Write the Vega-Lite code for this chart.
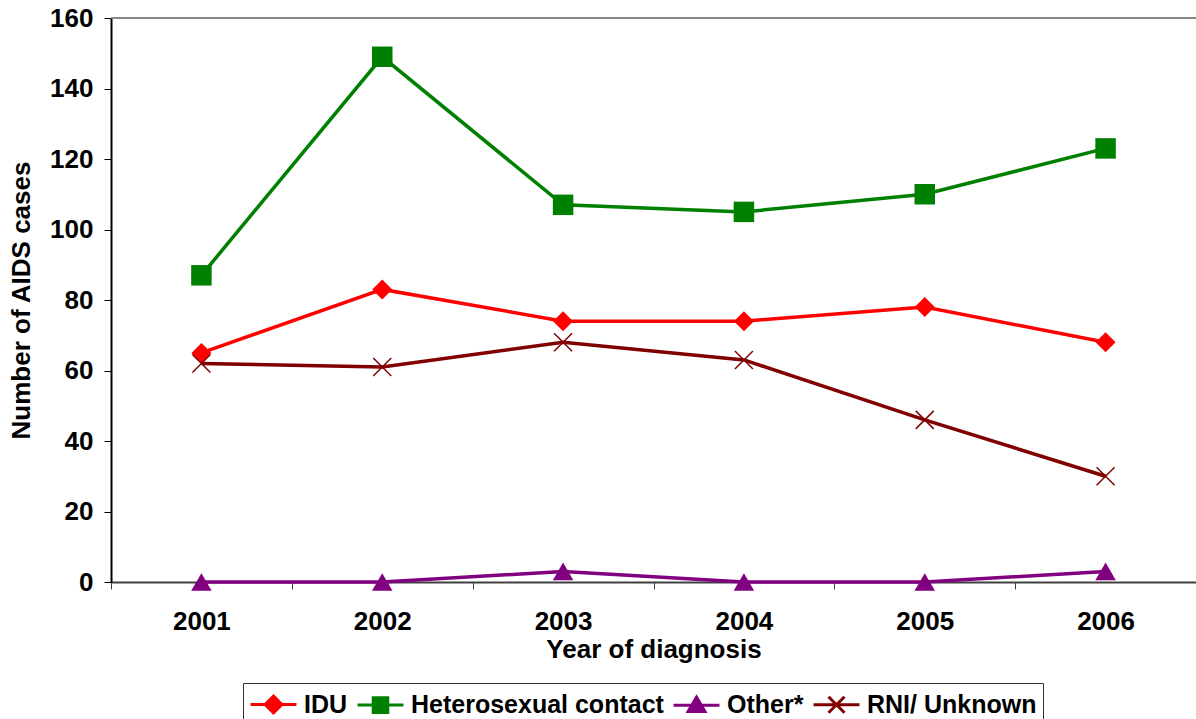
{
  "$schema": "https://vega.github.io/schema/vega-lite/v6.json",
  "width": 1085,
  "height": 564,
  "padding": {"left": 111, "top": 18, "right": 0, "bottom": 137},
  "autosize": {"type": "none"},
  "background": "white",
  "config": {
    "view": {"stroke": null},
    "font": "Liberation Sans",
    "axis": {"labelFont": "Liberation Sans", "titleFont": "Liberation Sans", "labelColor": "black", "titleColor": "black", "labelFontWeight": "bold", "titleFontWeight": "bold", "labelFontSize": 26, "titleFontSize": 26, "grid": false},
    "legend": {"labelFont": "Liberation Sans"}
  },
  "data": {
    "values": [
      {"year": "2001", "group": "IDU", "cases": 65},
      {"year": "2002", "group": "IDU", "cases": 83},
      {"year": "2003", "group": "IDU", "cases": 74},
      {"year": "2004", "group": "IDU", "cases": 74},
      {"year": "2005", "group": "IDU", "cases": 78},
      {"year": "2006", "group": "IDU", "cases": 68},
      {"year": "2001", "group": "Heterosexual contact", "cases": 87},
      {"year": "2002", "group": "Heterosexual contact", "cases": 149},
      {"year": "2003", "group": "Heterosexual contact", "cases": 107},
      {"year": "2004", "group": "Heterosexual contact", "cases": 105},
      {"year": "2005", "group": "Heterosexual contact", "cases": 110},
      {"year": "2006", "group": "Heterosexual contact", "cases": 123},
      {"year": "2001", "group": "Other*", "cases": 0},
      {"year": "2002", "group": "Other*", "cases": 0},
      {"year": "2003", "group": "Other*", "cases": 3},
      {"year": "2004", "group": "Other*", "cases": 0},
      {"year": "2005", "group": "Other*", "cases": 0},
      {"year": "2006", "group": "Other*", "cases": 3},
      {"year": "2001", "group": "RNI/ Unknown", "cases": 62},
      {"year": "2002", "group": "RNI/ Unknown", "cases": 61},
      {"year": "2003", "group": "RNI/ Unknown", "cases": 68},
      {"year": "2004", "group": "RNI/ Unknown", "cases": 63},
      {"year": "2005", "group": "RNI/ Unknown", "cases": 46},
      {"year": "2006", "group": "RNI/ Unknown", "cases": 30}
    ]
  },
  "layer": [
    {
      "mark": {"type": "rule", "color": "#888888", "strokeWidth": 2},
      "encoding": {"y": {"datum": 160, "type": "quantitative"}}
    },
    {
      "mark": {"type": "line", "strokeWidth": 3.5},
      "encoding": {
        "x": {
          "field": "year", "type": "ordinal",
          "scale": {"type": "band", "paddingInner": 0, "paddingOuter": 0},
          "axis": {"title": "Year of diagnosis", "labelAngle": 0, "tickBand": "extent", "tickSize": 7, "tickColor": "#404040", "domainColor": "#404040", "domainWidth": 2, "labelPadding": 19, "titlePadding": 2}
        },
        "y": {
          "field": "cases", "type": "quantitative",
          "scale": {"domain": [0, 160], "nice": false},
          "axis": {
            "title": "Number of AIDS cases",
            "values": [0,5,10,15,20,25,30,35,40,45,50,55,60,65,70,75,80,85,90,95,100,105,110,115,120,125,130,135,140,145,150,155,160],
            "labelExpr": "datum.value % 20 === 0 ? datum.label : ''",
            "labelOverlap": false,
            "labelFlush": false,
            "tickSize": 7, "tickColor": "black", "domainColor": "black", "domainWidth": 2,
            "labelPadding": 11, "titlePadding": 15
          }
        },
        "color": {
          "field": "group", "type": "nominal",
          "scale": {"domain": ["IDU", "Heterosexual contact", "Other*", "RNI/ Unknown"], "range": ["#FF0000", "#008000", "#800080", "#800000"]},
          "legend": {
            "orient": "none", "legendX": 132, "legendY": 665, "direction": "horizontal", "title": null,
            "strokeColor": "#333333", "padding": 6, "labelFontSize": 25, "labelFontWeight": "bold", "labelColor": "black", "labelLimit": 500,
            "symbolSize": 784, "symbolOffset": 9, "columnPadding": 3, "labelOffset": 15, "symbolStrokeWidth": 3,
            "encode": {
              "symbols": {
                "update": {
                  "shape": {"signal": "datum.value === 'IDU' ? 'M-1.64,0H1.64M0,-0.6L0.6,0L0,0.6L-0.6,0Z' : datum.value === 'Heterosexual contact' ? 'M-1.64,0H1.64M-0.52,-0.52H0.52V0.52H-0.52Z' : datum.value === 'Other*' ? 'M-1.64,0H1.64M0,-0.58L0.6,0.45H-0.6Z' : 'M-1.64,0H1.64M-0.57,-0.57L0.57,0.57M0.57,-0.57L-0.57,0.57'"},
                  "fill": {"signal": "scale('color', datum.value)"},
                  "stroke": {"signal": "scale('color', datum.value)"},
                  "strokeWidth": {"value": 3},
                  "opacity": {"value": 1}
                }
              }
            }
          }
        }
      }
    },
    {
      "transform": [{"filter": "datum.group === 'IDU'"}],
      "mark": {"type": "point", "shape": "diamond", "filled": true, "size": 400, "opacity": 1, "color": "#FF0000"},
      "encoding": {"x": {"field": "year", "type": "ordinal"}, "y": {"field": "cases", "type": "quantitative"}}
    },
    {
      "transform": [{"filter": "datum.group === 'Heterosexual contact'"}],
      "mark": {"type": "point", "shape": "square", "filled": true, "size": 420, "opacity": 1, "color": "#008000"},
      "encoding": {"x": {"field": "year", "type": "ordinal"}, "y": {"field": "cases", "type": "quantitative"}}
    },
    {
      "transform": [{"filter": "datum.group === 'Other*'"}],
      "mark": {"type": "point", "shape": "triangle-up", "filled": true, "size": 420, "opacity": 1, "color": "#800080"},
      "encoding": {"x": {"field": "year", "type": "ordinal"}, "y": {"field": "cases", "type": "quantitative"}}
    },
    {
      "transform": [{"filter": "datum.group === 'RNI/ Unknown'"}],
      "mark": {"type": "point", "shape": "M-1,-1L1,1M1,-1L-1,1", "filled": false, "size": 324, "opacity": 1, "color": "#800000", "strokeWidth": 1.5},
      "encoding": {"x": {"field": "year", "type": "ordinal"}, "y": {"field": "cases", "type": "quantitative"}}
    }
  ]
}
